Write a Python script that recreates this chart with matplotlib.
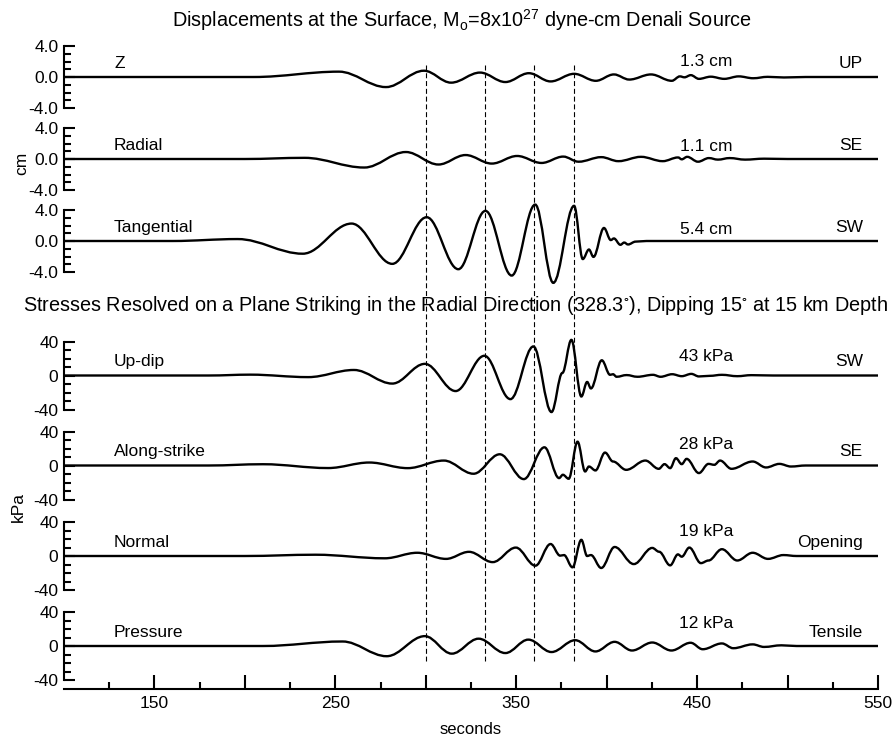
import matplotlib
matplotlib.use('Agg')
import matplotlib.pyplot as plt
from matplotlib.path import Path
from matplotlib.patches import PathPatch

plt.rcParams['font.family'] = ['Liberation Sans', 'DejaVu Sans']
plt.rcParams['mathtext.default'] = 'regular'

"----------------------------------- Data -----------------------------------"

names = ['Z', 'Radial', 'Tangential', 'Up-dip', 'Along-strike', 'Normal', 'Pressure']
peak_labels = ['1.3 cm', '1.1 cm', '5.4 cm', '43 kPa', '28 kPa', '19 kPa', '12 kPa']
directions = ['UP', 'SE', 'SW', 'SW', 'SE', 'Opening', 'Tensile']
dashed_times = [300, 333, 360, 382]

# extrema of each trace: seconds, value (cm for displacements, kPa for stresses)
z_t = [100, 205, 252, 278, 299, 314, 330, 344, 357, 369, 382, 394, 404, 412.5,
       424.5, 436, 440.5, 443, 446.5, 451, 457.5, 465, 473, 481, 489, 498, 510, 550]
z_v = [0, 0, 0.69, -1.3, 0.81, -0.73, 0.57, -0.65, 0.49, -0.57, 0.41, -0.49, 0.33,
       -0.33, 0.33, -0.49, 0.08, -0.04, 0.24, -0.24, 0.04, -0.24, 0.08, -0.16, 0.02,
       -0.06, 0, 0]

radial_t = [100, 200, 233, 266, 289, 307, 322, 336.5, 350.5, 364, 376, 384.5, 397,
            406.5, 419, 431, 439.5, 441.5, 444.5, 450.5, 456.5, 461.5, 468, 476.5,
            487, 500, 550]
radial_v = [0, 0, 0.15, -1.1, 0.9, -0.71, 0.51, -0.59, 0.39, -0.51, 0.31, -0.35,
            0.24, -0.28, 0.28, -0.28, 0.2, -0.04, 0.28, -0.35, 0.12, -0.08, 0.12,
            -0.08, 0.04, 0, 0]

tang_t = [100, 160, 196, 232, 259, 281.5, 300.5, 318, 333, 347.5, 360.5, 370.5, 382,
          386.8, 390.2, 392.7, 398.5, 402.3, 404, 407.6, 409.7, 411.8, 416, 422, 550]
tang_v = [0, 0, 0.25, -1.64, 2.25, -2.95, 3.07, -3.64, 3.89, -4.46, 4.7, -5.4, 4.54,
          -2.33, -1.1, -2.05, 1.68, 0.12, 0.33, -0.49, -0.2, -0.45, -0.08, 0, 0]

updip_t = [100, 180, 203, 235, 260.3, 281.5, 299.5, 316.5, 332.4, 346.8, 359.5, 369.5,
           375.5, 380.5, 386, 389.2, 391.3, 397.3, 401.9, 403.5, 405.5, 411, 417,
           425.6, 429.8, 436.2, 441.5, 446.8, 451, 457, 463.7, 472.2, 480, 492, 550]
updip_v = [0, 0, 1, -1.9, 6.5, -9.5, 13.7, -18.3, 23.2, -27.8, 34.2, -43, 3, 41.9,
           -24.7, -7.6, -15.2, 17.9, 0.8, 1.5, -1.5, 0.5, -1.5, 0.8, -1.5, 1.5, -0.8,
           1.9, -1.1, -0.4, 0.8, -0.8, 0.4, 0, 0]

along_t = [100, 180, 210, 246, 268.8, 290, 310, 326.4, 340.9, 354.2, 365.6, 373.7,
           375.8, 379, 383.9, 388.1, 390.2, 393.8, 399.1, 403.5, 410.8, 421.4, 428.8,
           432, 435.1, 438.3, 441.5, 444.2, 451, 456.3, 459.5, 462.7, 469, 480.7,
           488.1, 495.5, 501.9, 510, 550]
along_v = [0, 0, 1.5, -3, 3.5, -3.1, 5.8, -9.7, 13.2, -16, 21.4, -14.8, -10.9, -15.6,
           28, -7, -1.2, -5.8, 15.2, 4.7, -5.1, 5.8, -3.9, 1.6, -3.1, 8.6, 1.6, 7.8,
           -8.9, 1.9, 0.8, 5.8, -3.9, 4.7, -2.3, 1.9, -1.2, 0, 0]

normal_t = [100, 200, 239, 277.3, 295.3, 311.2, 323.9, 337, 349.8, 360.6, 369, 374.3,
            376.4, 381.1, 386, 389.2, 391.3, 397, 404.4, 415, 425.2, 429, 435.1,
            439.4, 441.5, 445.7, 452.1, 456.3, 463.7, 472.2, 480.7, 489.2, 497.7,
            505, 550]
normal_v = [0, 0, 1.5, -2.7, 3.8, -3.4, 4.9, -7.2, 9.9, -11.4, 14.1, 0.4, 1.1, -13.3,
            19, 0, 1.1, -14.1, 10.6, -9.5, 9.5, 5, -11, 1.9, -0.8, 9.9, -8.4, -5.3, 8,
            -5.3, 3.8, -3.4, 1.1, 0, 0]

press_t = [100, 210, 254, 278.4, 299.5, 314.4, 329.2, 344, 356.7, 369.5, 382.6,
           393.8, 404.4, 414, 425.2, 435.8, 446.4, 453.1, 463.7, 470, 480.7, 487,
           496.6, 505, 550]
press_v = [0, 0, 5.3, -12, 11.6, -9, 8.6, -8.3, 7.5, -7.1, 6.8, -6.4, 4.9, -5.3, 4.1,
           -5.3, 3.8, -3.8, 3, -2.6, 1.9, -1.1, 0.8, 0, 0]

traces = [(z_t, z_v), (radial_t, radial_v), (tang_t, tang_v), (updip_t, updip_v),
          (along_t, along_v), (normal_t, normal_v), (press_t, press_v)]

"---------------------------------- Layout ----------------------------------"

W, H = 892, 738
left_px, right_px = 64, 878
zero_px = [77, 159, 241, 375.5, 465.5, 556, 646]
half_px = [31, 31, 31, 34, 34, 34, 34]
peak_off = [11, 9, 8, 13.5, 15, 17.5, 16]
fs = 12.5


def wave_path(times, values):
    # smooth curve through the extrema, flat tangent at every point
    verts = [(times[0], values[0])]
    codes = [Path.MOVETO]
    for t0, v0, t1, v1 in zip(times[:-1], values[:-1], times[1:], values[1:]):
        d = 0.3634 * (t1 - t0)
        verts += [(t0 + d, v0), (t1 - d, v1), (t1, v1)]
        codes += [Path.CURVE4] * 3
    return Path(verts, codes)


fig = plt.figure(figsize=(W / 100, H / 100), dpi=100)

for i, (tt, vv) in enumerate(traces):
    disp = i < 3
    lim = 4 if disp else 40
    ax = fig.add_axes([left_px / W, 1 - (zero_px[i] + half_px[i]) / H,
                       (right_px - left_px) / W, 2 * half_px[i] / H])
    ax.set_xlim(100, 550)
    ax.set_ylim(-lim, lim)
    ax.patch.set_visible(False)
    for s in ['top', 'right', 'bottom']:
        ax.spines[s].set_visible(False)
    ax.spines['left'].set_linewidth(1.5)
    ax.set_xticks([])
    ax.set_yticks([-lim, 0, lim])
    ax.set_yticklabels(['-4.0', '0.0', '4.0'] if disp else ['-40', '0', '40'])
    ax.set_yticks([k * lim / 4 for k in (-3, -2, -1, 1, 2, 3)], minor=True)
    ax.tick_params(axis='y', which='major', direction='in', length=8, width=1.5,
                   labelsize=fs, pad=4)
    ax.tick_params(axis='y', which='minor', direction='in', length=5, width=1.5)

    ax.add_patch(PathPatch(wave_path(tt, vv), fill=False, lw=1.7,
                           edgecolor='black', clip_on=False))

    ax.annotate(names[i], (127.7, 0), xytext=(0, 10), textcoords='offset points',
                ha='left', va='center', fontsize=fs)
    ax.annotate(peak_labels[i], (455, 0), xytext=(0, peak_off[i]),
                textcoords='offset points', ha='center', va='center', fontsize=fs)
    ax.annotate(directions[i], (541.6, 0), xytext=(0, 10),
                textcoords='offset points', ha='right', va='center', fontsize=fs)

# dashed reference times across all panels
ov = fig.add_axes([left_px / W, 0, (right_px - left_px) / W, 1])
ov.set_xlim(100, 550)
ov.set_ylim(H, 0)
ov.axis('off')
ov.vlines(dashed_times, 65, 661, colors='black', linestyles=(0, (4.5, 2.5)), lw=0.8)

# time axis
xa = fig.add_axes([left_px / W, 1 - 689 / H, (right_px - left_px) / W, 0.02])
xa.patch.set_visible(False)
for s in ['top', 'right', 'left']:
    xa.spines[s].set_visible(False)
xa.spines['bottom'].set_linewidth(1.5)
xa.set_xlim(100, 550)
xa.set_yticks([])
xa.set_xticks([150, 200, 250, 300, 350, 400, 450, 500, 550])
xa.set_xticklabels(['150', '', '250', '', '350', '', '450', '', '550'])
xa.set_xticks([125, 175, 225, 275, 325, 375, 425, 475, 525], minor=True)
xa.tick_params(axis='x', which='major', direction='in', length=10, width=1.5,
               labelsize=fs, pad=5)
xa.tick_params(axis='x', which='minor', direction='in', length=5, width=1.5)

fig.text(471 / W, 1 - 730 / H, 'seconds', ha='center', va='center', fontsize=12)
fig.text(22 / W, 1 - 163 / H, 'cm', ha='center', va='center', rotation=90, fontsize=fs)
fig.text(18 / W, 1 - 507 / H, 'kPa', ha='center', va='center', rotation=90, fontsize=fs)

fig.text(462 / W, 1 - 20 / H,
         'Displacements at the Surface, M$_{o}$=8x10$^{27}$ dyne-cm Denali Source',
         ha='center', va='center', fontsize=14.3)
fig.text(455 / W, 1 - 306 / H,
         'Stresses Resolved on a Plane Striking in the Radial Direction (328.3$^{\\circ}$), '
         'Dipping 15$^{\\circ}$ at 15 km Depth',
         ha='center', va='center', fontsize=14.3)

fig.savefig('out.png', dpi=100)
